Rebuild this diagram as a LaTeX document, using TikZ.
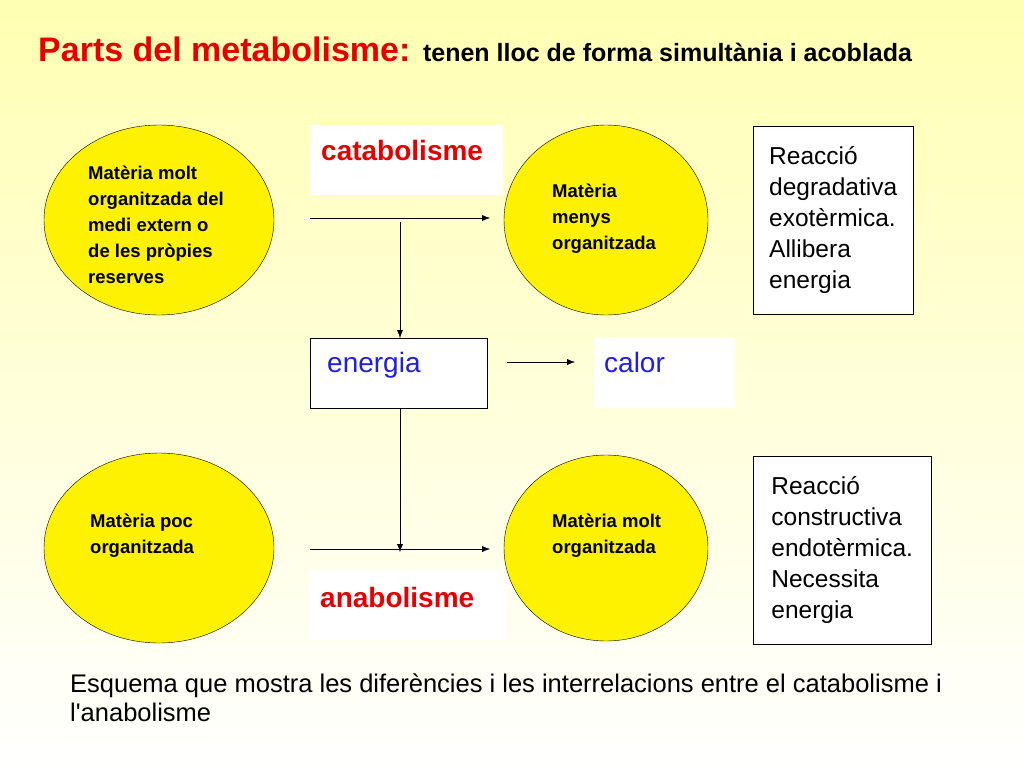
\documentclass[tikz,border=0pt]{standalone}
\usepackage{fontspec}
\setmainfont{Liberation Sans}
\usetikzlibrary{shapes.geometric,positioning,arrows.meta}
\definecolor{titlered}{RGB}{230,0,0}
\definecolor{labblue}{RGB}{30,30,230}
\tikzset{
  blob/.style={ellipse,draw,fill=yellow,minimum width=230pt,minimum height=190pt,inner sep=0pt},
  blobtext/.style={align=left,inner sep=0pt,font=\fontsize{18.5}{26}\selectfont\bfseries},
  labbox/.style={fill=white,minimum width=190pt,minimum height=70pt,inner sep=0pt},
  notebox/.style={draw,fill=white,align=left,anchor=north west,inner sep=8pt,font=\fontsize{24.5}{31}\selectfont},
  labtext/.style={anchor=base west,inner sep=0pt,font=\fontsize{28}{30}\selectfont},
  flow/.style={-{Latex[length=8pt,width=6pt]},thin}
}
\begin{document}
\begin{tikzpicture}[x=1pt,y=-1pt]
\shade[top color=yellow!30,bottom color=white] (0,0) rectangle (1024,768);
\useasboundingbox (0,0) rectangle (1024,768);
% title
\node[anchor=base west,inner sep=0pt,font=\fontsize{34}{36}\selectfont\bfseries] (title) at (38,62)
  {\textcolor{titlered}{Parts del metabolisme:} {\fontsize{25}{27}\selectfont tenen lloc de forma simultània i acoblada}};
% ellipses
\node[blob] (rich) at (159,220) {};
\node[blobtext,anchor=north west] (richtxt) at (88,166) {Matèria molt\\organitzada del\\medi extern o\\de les pròpies\\reserves};
\node[blob,minimum width=204pt] (less) at (606,220) {};
\node[blobtext,anchor=north west] (lesstxt) at (552,184) {Matèria\\menys\\organitzada};
\node[blob] (poor) at (159,548) {};
\node[blobtext,anchor=north west] (poortxt) at (90,514) {Matèria poc\\organitzada};
\node[blob,minimum width=204pt,minimum height=186pt] (high) at (606,548) {};
\node[blobtext,anchor=north west] (hightxt) at (552,514) {Matèria molt\\organitzada};
% labels
\node[labbox,anchor=north west,minimum width=193pt] (cat) at (310,125) {};
\node[labtext,text=titlered,font=\fontsize{28}{30}\selectfont\bfseries] at (321,160) {catabolisme};
\node[labbox,draw,anchor=north west,minimum width=177pt] (ene) at (310,338) {};
\node[labtext,text=labblue] at (327,372) {energia};
\node[labbox,anchor=north west,minimum width=141pt] (cal) at (594,338) {};
\node[labtext,text=labblue] at (604,372) {calor};
\node[labbox,anchor=north west,minimum width=195pt] (ana) at (310,570) {};
\node[labtext,text=titlered,font=\fontsize{28}{30}\selectfont\bfseries] at (320,607) {anabolisme};
% notes
\node[notebox,minimum width=160pt,minimum height=188pt] (note1) at (753,126) {Reacció\\degradativa\\exotèrmica.\\Allibera\\energia};
\node[notebox,minimum width=178pt,minimum height=188pt] (note2) at (753,456) {Reacció\\constructiva\\endotèrmica.\\Necessita\\energia};
% arrows
\coordinate (a1) at (310,218);
\coordinate (a2) at (490,218);
\coordinate (v1) at (400,222);
\coordinate (b1) at (310,549);
\coordinate (b2) at (490,549);
\coordinate (v2) at (400,552);
\coordinate (h1) at (507,362);
\coordinate (h2) at (575,362);
\draw[flow] (a1) -- (a2);
\draw[flow] (v1) -- (ene.north -| v1);
\draw[flow] (ene.south -| v2) -- (v2);
\draw[flow] (b1) -- (b2);
\draw[flow] (h1) -- (h2);
% caption
\node[anchor=north west,align=left,inner sep=0pt,font=\fontsize{25.5}{29}\selectfont] (cap) at (70,674)
  {Esquema que mostra les diferències i les interrelacions entre el catabolisme i\\l\textquotesingle anabolisme};
\end{tikzpicture}
\end{document}
